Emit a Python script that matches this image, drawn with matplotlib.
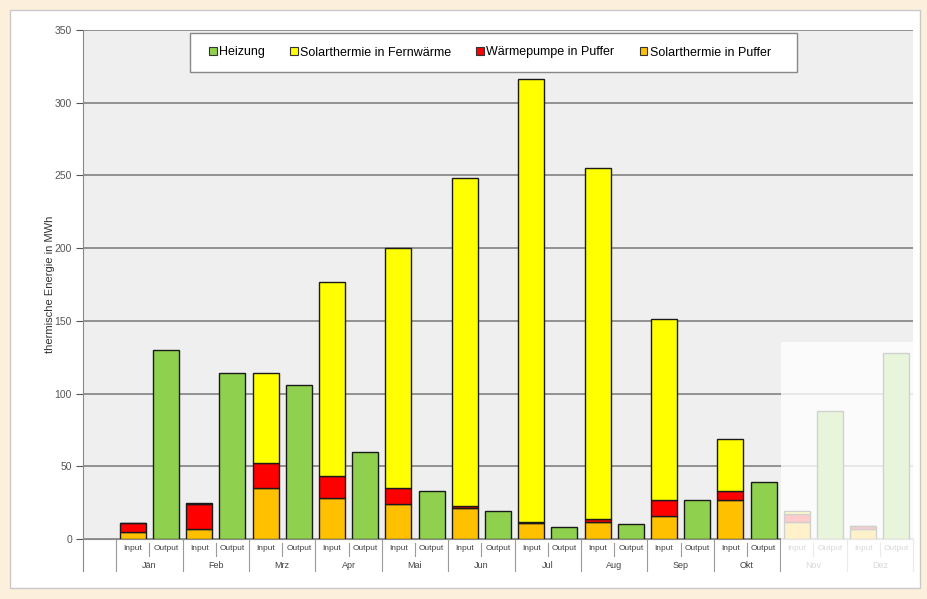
import matplotlib
matplotlib.use("Agg")
import matplotlib.pyplot as plt
import numpy as np
from matplotlib.patches import Patch, Rectangle

plt.rcParams["font.family"] = ["Liberation Sans", "DejaVu Sans"]

##############################################################################
# Data
##############################################################################

months = ["Jän", "Feb", "Mrz", "Apr", "Mai", "Jun", "Jul", "Aug", "Sep", "Okt", "Nov", "Dez"]
sub_labels = ["Input", "Output"]

input_solar_puffer = [5, 7, 35, 28, 24, 21, 11, 12, 16, 27, 12, 7]
input_wp_puffer = [6, 17, 17, 15, 11, 2, 0.5, 2, 11, 6, 5, 2]
input_solar_fw = [0, 1, 62, 134, 165, 225, 304.5, 241, 124, 36, 2, 0]
output_heizung = [130, 114, 106, 60, 33, 19, 8, 10, 27, 39, 88, 128]

legend_labels = ["Heizung", "Solarthermie in Fernwärme", "Wärmepumpe in Puffer", "Solarthermie in Puffer"]
colors = {"Heizung": "#8FD14F", "Solarthermie in Fernwärme": "#FFFF00",
          "Wärmepumpe in Puffer": "#FF0000", "Solarthermie in Puffer": "#FFC000"}

##############################################################################
# Figure
##############################################################################

W, H = 928, 599
fig = plt.figure(figsize=(W / 100, H / 100), dpi=100, facecolor="#FCF0DC")

# white panel
fig.patches.append(Rectangle((10 / W, 1 - 588 / H), 910 / W, 578 / H, transform=fig.transFigure,
                             facecolor="white", edgecolor="#c8c8c8", lw=1, zorder=-5))

ax = fig.add_axes([83 / W, 1 - 539 / H, 830 / W, 509 / H])
ax.set_zorder(1)
ax.set_facecolor("#EFEFEF")

n = len(months)
x_in = np.arange(n) * 2 + 1
x_out = np.arange(n) * 2 + 2
width = 0.78
edge = dict(edgecolor="#1a1a1a", linewidth=1.0)

sp = np.array(input_solar_puffer)
wp = np.array(input_wp_puffer)
fw = np.array(input_solar_fw)

ax.bar(x_in, sp, width, color=colors["Solarthermie in Puffer"], zorder=3, **edge)
ax.bar(x_in, wp, width, bottom=sp, color=colors["Wärmepumpe in Puffer"], zorder=3, **edge)
ax.bar(x_in, fw, width, bottom=sp + wp, color=colors["Solarthermie in Fernwärme"], zorder=3, **edge)
ax.bar(x_out, output_heizung, width, color=colors["Heizung"], zorder=3, **edge)

ax.set_xlim(-0.5, 2 * n + 0.5)
ax.set_ylim(0, 350)
ax.set_yticks(np.arange(0, 351, 50))
ax.yaxis.grid(True, color="#8a8a8a", linewidth=1.3)
ax.set_axisbelow(True)
ax.tick_params(axis="y", labelsize=7.5, colors="#555555", length=5, width=0.8, pad=3)
ax.set_xticks([])
for s in ["top", "right"]:
    ax.spines[s].set_visible(False)
ax.spines["left"].set_color("#8a8a8a")
ax.spines["bottom"].set_color("#8a8a8a")
ax.set_ylabel("thermische Energie in MWh", fontsize=8, color="#333333", labelpad=0)

# two level category axis
trans = ax.get_xaxis_transform()
px = 1 / 509
for i in range(n):
    ax.text(x_in[i], -10 * px, sub_labels[0], transform=trans, ha="center", va="center", fontsize=6, color="#444444")
    ax.text(x_out[i], -10 * px, sub_labels[1], transform=trans, ha="center", va="center", fontsize=6, color="#444444")
    ax.text(x_in[i] + 0.5, -26 * px, months[i], transform=trans, ha="center", va="center", fontsize=6.5, color="#444444")
    ax.plot([x_in[i] + 0.5] * 2, [-4 * px, -17 * px], transform=trans, color="#9a9a9a", lw=0.8, clip_on=False)
for b in np.arange(0, 2 * n + 1, 2) + 0.5:
    ax.plot([b, b], [0, -32 * px], transform=trans, color="#9a9a9a", lw=0.8, clip_on=False)
ax.plot([-0.5, -0.5], [0, -32 * px], transform=trans, color="#8a8a8a", lw=0.8, clip_on=False)

# legend (box drawn separately)
fig.patches.append(Rectangle((190 / W, 1 - 72 / H), 607 / W, 39 / H, transform=fig.transFigure,
                             facecolor="white", edgecolor="#888888", lw=1, zorder=4))
handles = [Patch(facecolor=colors[l], edgecolor="#333333", linewidth=0.8) for l in legend_labels]
leg = fig.legend(handles, legend_labels, loc="center", bbox_to_anchor=(490 / W, 1 - 52.5 / H), ncol=4,
                 fontsize=9, frameon=False, handlelength=0.6, handleheight=0.6, handletextpad=0.2,
                 columnspacing=2.0, borderpad=0, borderaxespad=0)
leg.set_zorder(5)

# faded overlay over Nov/Dez
fig.patches.append(Rectangle((781 / W, 1 - 582 / H), 137 / W, 240 / H, transform=fig.transFigure,
                             facecolor="white", edgecolor="none", alpha=0.8, zorder=10))

fig.savefig("out.png", dpi=100, facecolor=fig.get_facecolor())
